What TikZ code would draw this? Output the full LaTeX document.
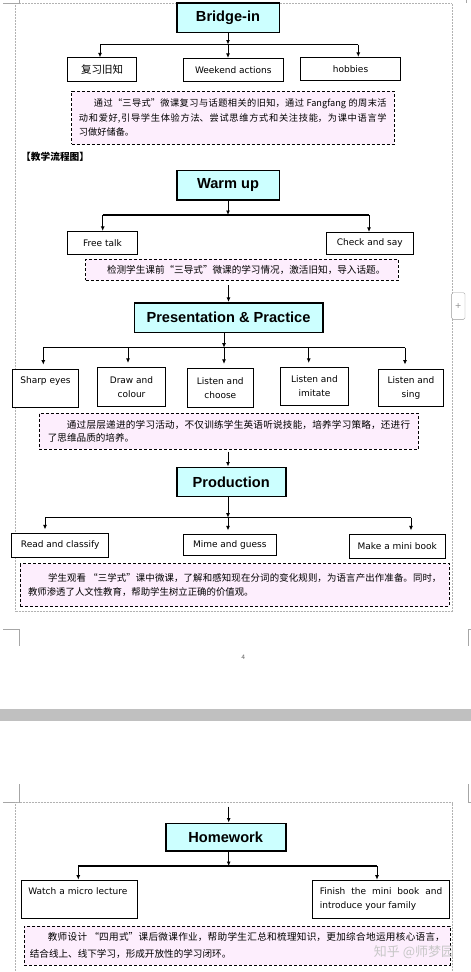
\documentclass[tikz,border=0pt]{standalone}
\usepackage{fontspec}
\setmainfont{DejaVu Sans}
\newfontfamily\cjk{Noto Sans CJK SC}
\newfontfamily\stagefont{Liberation Sans}
\XeTeXlinebreaklocale "zh"
\XeTeXlinebreakskip = 0pt plus 1pt
\tolerance = 9999
\usetikzlibrary{arrows.meta, positioning}
\definecolor{stagecyan}{HTML}{CCFFFF}
\definecolor{notepink}{HTML}{FDEEFD}
\definecolor{pagegray}{HTML}{C0C0C0}

\begin{document}
\begin{tikzpicture}[
        x = 1pt, y = -1pt,
        >= {Latex[length = 4.5pt, width = 4pt]},
        stage/.style = {draw, line width = 1.6pt, fill = stagecyan, inner sep = 0pt,
            font = \stagefont\bfseries\fontsize{14.6}{16}\selectfont},
        task/.style = {draw, line width = 0.8pt, fill = white, align = center, inner sep = 0pt,
            font = \fontsize{9}{14}\selectfont},
        remark/.style 2 args = {draw, line width = 0.8pt, dash pattern = on 3pt off 2pt,
            fill = notepink, align = justify, inner ysep = 0pt,
            font = \cjk\fontsize{#1}{#2}\selectfont},
        bar/.style = {line width = 1.3pt},
        flow/.style = {->, line width = 1pt},
        frame/.style = {draw = black!30, densely dotted, line width = 0.5pt},
        crop/.style = {draw = black!35, line width = 0.5pt}
    ]
      \fill[white] (0,0) rectangle (471,972);
      \useasboundingbox (0,0) rectangle (471,972);

      \draw[frame] (15,3.3) rectangle (452,611.7);
      \draw[crop] (3.3,3.3) -- (19.3,3.3) -- (19.3,0);
      \draw[crop] (466.7,0) -- (466.7,3.3);
      \draw[crop] (3.3,629.3) -- (19.3,629.3) -- (19.3,646);
      \draw[crop] (471,629.3) -- (468.3,629.3) -- (468.3,646);
      \node[text = black!60, font = \fontsize{6}{7}\selectfont] (pageno) at (243.3,657.7) {4};
      \fill[pagegray] (0,708.7) rectangle (471,721);
      \draw[crop] (19.3,784.3) -- (19.3,802.7) -- (3.3,802.7);
      \draw[crop] (468.3,784.3) -- (468.3,802.7) -- (471,802.7);
      \draw[frame] (15,972) -- (15,802.7) -- (452,802.7) -- (452,972);
      \node[draw = black!40, fill = white, rounded corners = 1.5pt, minimum width = 13.3pt,
            minimum height = 26.6pt, text = black!45, font = \fontsize{8}{8}\selectfont] (addbtn) at (458.3,306) {+};

      \node[stage, minimum width = 102.6pt, minimum height = 29.6pt] (bridge) at (228,17.5) {Bridge-in};
      \node[task, minimum width = 69pt, minimum height = 23.6pt, font = \cjk\fontsize{10.5}{12}\selectfont] (review) at (102.2,69.5) {复习旧知};
      \node[task, minimum width = 100pt, minimum height = 23pt] (weekend) at (233.3,69.8) {Weekend actions};
      \node[task, minimum width = 99.6pt, minimum height = 23pt] (hobbies) at (350.5,68.8) {hobbies};
      \node[remark = {9.2}{14.5}, text width = 307.7pt, inner xsep = 7.3pt, minimum height = 53.3pt] (n1) at (232.8,117.7) {\noindent\hspace*{15pt}通过“三导式”微课复习与话题相关的旧知，通过 Fangfang 的周末活\linebreak 动和爱好,引导学生体验方法、尝试思维方式和关注技能，为课中语言学\linebreak 习做好储备。};
      \node[anchor = west, inner sep = 0pt, font = \cjk\bfseries\fontsize{9.7}{12}\selectfont] (flowtitle) at (21,156.7) {【教学流程图】};

      \coordinate (ba1) at (100,44.5);
      \coordinate (ba3) at (358.3,44.5);
      \draw[bar] (ba1) -- (ba3);
      \draw[flow] (bridge.south) -- (bridge.south |- ba1);
      \draw[flow] (ba1) -- (ba1 |- review.north);
      \draw[flow] (bridge.south |- ba1) -- (bridge.south |- weekend.north);
      \draw[flow] (ba3) -- (ba3 |- hobbies.north);

      \node[stage, minimum width = 102.6pt, minimum height = 29.3pt] (warm) at (228,185.3) {Warm up};
      \node[task, minimum width = 69.6pt, minimum height = 23pt] (freetalk) at (102.5,242.8) {Free talk};
      \node[task, minimum width = 87.3pt, minimum height = 22pt] (check) at (369.7,243.3) {Check and say};
      \node[remark = {9.6}{14.5}, text width = 308pt, inner xsep = 2.3pt, minimum height = 20.7pt] (n2) at (242,269.7) {\noindent\hspace*{19pt}检测学生课前“三导式”微课的学习情况，激活旧知，导入话题。};

      \coordinate (bb1) at (102.7,215);
      \coordinate (bb2) at (369,215);
      \draw[bar] (bb1) -- (bb2);
      \draw[flow] (warm.south) -- (warm.south |- bb1);
      \draw[flow] (bb1) -- (bb1 |- freetalk.north);
      \draw[flow] (bb2) -- (bb2 |- check.north);

      \node[stage, minimum width = 188.4pt, minimum height = 29.6pt] (present) at (228.5,317.5) {Presentation \& Practice};
      \draw[flow, shorten <= 5pt] (present.north |- n2.south) -- (present.north);
      \node[task, minimum width = 66.4pt, minimum height = 38.3pt] (sharp) at (45.5,388.2) {Sharp eyes\\\phantom{Xg}};
      \node[task, minimum width = 68.4pt, minimum height = 38.7pt] (colour) at (131.5,386.7) {Draw and\\colour};
      \node[task, minimum width = 66pt, minimum height = 39pt] (choose) at (220.3,387.8) {Listen and\\choose};
      \node[task, minimum width = 68.4pt, minimum height = 38pt] (imitate) at (314.5,386.3) {Listen and\\imitate};
      \node[task, minimum width = 65.4pt, minimum height = 37.7pt] (sing) at (411,387.8) {Listen and\\sing};
      \node[remark = {9.6}{12.4}, text width = 362.3pt, inner xsep = 8.5pt, minimum height = 36pt] (n3) at (229,431.3) {\noindent\hspace*{19pt}通过层层递进的学习活动，不仅训练学生英语听说技能，培养学习策略，还进行\linebreak 了思维品质的培养。};

      \coordinate (bc1) at (43.3,347.7);
      \coordinate (bc2) at (128,347.7);
      \coordinate (bc3) at (224,347.7);
      \coordinate (bc4) at (308.7,347.7);
      \coordinate (bc5) at (405,347.7);
      \draw[bar] (bc1) -- (bc5);
      \draw[flow] (bc3 |- present.south) -- (bc3);
      \foreach \i/\t in {1/sharp, 2/colour, 3/choose, 4/imitate, 5/sing}
          \draw[flow, shorten >= 4pt] (bc\i) -- (bc\i |- \t.north);

      \node[stage, minimum width = 109pt, minimum height = 29pt] (production) at (231.2,481.8) {Production};
      \coordinate (pin) at (228,451.7);
      \draw[flow] (pin) -- (pin |- production.north);
      \node[task, minimum width = 97pt, minimum height = 23.7pt] (classify) at (60.2,545.2) {Read and classify};
      \node[task, minimum width = 93pt, minimum height = 21pt] (mime) at (229.8,544.8) {Mime and guess};
      \node[task, minimum width = 96pt, minimum height = 24pt] (minibook) at (397.3,546.3) {Make a mini book};
      \node[remark = {9.4}{14.6}, text width = 413.4pt, inner xsep = 7.6pt, minimum height = 43pt] (n4) at (234.7,585.2) {\noindent\hspace*{20pt}学生观看 “三学式”课中微课，了解和感知现在分词的变化规则，为语言产出作准备。同时，\linebreak 教师渗透了人文性教育，帮助学生树立正确的价值观。};

      \coordinate (bd1) at (45,517.7);
      \coordinate (bd2) at (228,517.7);
      \coordinate (bd3) at (411,517.7);
      \draw[bar] (bd1) -- (bd3);
      \draw[flow] (pin |- production.south) -- (bd2);
      \draw[flow, shorten >= 3.5pt] (bd1) -- (bd1 |- classify.north);
      \draw[flow, shorten >= 3.5pt] (bd2) -- (bd2 |- mime.north);
      \draw[flow, shorten >= 3.5pt] (bd3) -- (bd3 |- minibook.north);

      \node[stage, minimum width = 120pt, minimum height = 27.4pt] (homework) at (225.7,837) {Homework};
      \coordinate (hin) at (228.7,806.7);
      \draw[flow] (hin) -- (hin |- homework.north);
      \node[task, minimum width = 116pt, minimum height = 38.3pt, text width = 102pt, align = left] (lecture) at (79.3,899.2) {Watch a micro lecture\\\phantom{Xg}};
      \node[task, minimum width = 137.4pt, minimum height = 38.3pt, text width = 122.4pt, align = justify] (finish) at (381,899.2) {Finish the mini book and\linebreak introduce your family};
      \node[remark = {9.6}{16.3}, text width = 415pt, inner xsep = 5.5pt, minimum height = 39pt] (n5) at (237.3,945.5) {\noindent\hspace*{18pt}教师设计 “四用式”课后微课作业，帮助学生汇总和梳理知识，更加综合地运用核心语言，\linebreak 结合线上、线下学习，形成开放性的学习闭环。};

      \coordinate (be1) at (78.3,866);
      \coordinate (be2) at (377,866);
      \draw[bar] (be1) -- (be2);
      \draw[flow] (hin |- homework.south) -- (hin |- be1);
      \draw[flow] (be1) -- (be1 |- lecture.north);
      \draw[flow] (be2) -- (be2 |- finish.north);

      \node[text = black!22, font = \cjk\fontsize{13}{14}\selectfont, inner sep = 0pt] (mark) at (414,952.3) {知乎 @师梦园};
    \end{tikzpicture}
\end{document}
